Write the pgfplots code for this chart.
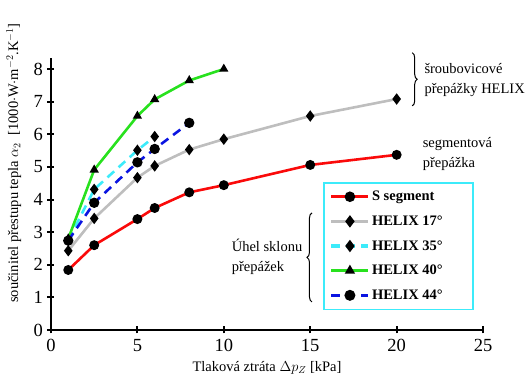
\documentclass[border=0pt]{standalone}
\usepackage{pgfplots}
\pgfplotsset{compat=1.18}
\usepackage{fontspec}
\setmainfont{Liberation Serif}
\usetikzlibrary{decorations.pathreplacing}
\definecolor{cgreen}{RGB}{40,225,30}
\definecolor{cgray}{RGB}{190,190,190}
\definecolor{ccyan}{RGB}{60,235,250}
\definecolor{cblue}{RGB}{10,20,225}
\definecolor{cred}{RGB}{250,10,10}
\begin{document}
\begin{tikzpicture}
\begin{axis}[
  scale only axis, width=432pt, height=272pt,
  xmin=0, xmax=25, ymin=0, ymax=8.34,
  axis lines=left, axis line style={line width=2.2pt, -},
  xtick={0,5,10,15,20,25}, ytick={0,1,...,8},
  tick align=center, major tick length=7pt,
  every tick/.style={line width=2pt, black},
  /pgf/number format/assume math mode=true,
  ticklabel style={font=\fontsize{18.5}{20}\selectfont},
  xticklabel style={yshift=-2pt},
  yticklabel style={xshift=-1pt},
  label style={font=\fontsize{14.5}{17}\selectfont},
  xlabel={Tlaková ztráta $\Delta p_Z$ [kPa]},
  ylabel={součinitel přestupu tepla $\alpha_2$\ \ [1000$\cdot$W$\cdot$m$^{-2}$.K$^{-1}$]},
  ylabel style={at={(axis description cs:-0.086,0.614)}, anchor=center},
  xlabel style={at={(axis description cs:0.5,-0.102)}, anchor=north},
  clip=false,
  legend cell align=left,
  legend style={at={(axis cs:15.74,4.54)}, anchor=north west, draw=ccyan, line width=1.6pt,
    font=\fontsize{14.5}{17}\selectfont\bfseries, row sep=9.5pt, inner xsep=6pt, inner ysep=6.5pt},
  legend image code/.code={\draw[mark repeat=2,mark phase=2,line width=3.2pt] plot coordinates {(0cm,0cm) (0.65cm,0cm) (1.3cm,0cm)};},
]
\addplot[cred, line width=2.6pt, mark=*, mark size=3.6pt, mark options={black, solid, fill=black}]
  coordinates {(1,1.84) (2.5,2.6) (5,3.40) (6,3.74) (8,4.22) (10,4.44) (15,5.06) (20,5.37)};
\addlegendentry{\makebox[93pt][l]{S segment}}
\addplot[cgray, line width=2.6pt, mark=diamond*, mark size=3.6pt, mark options={black, solid, fill=black}]
  coordinates {(1,2.43) (2.5,3.42) (5,4.67) (6,5.03) (8,5.53) (10,5.85) (15,6.56) (20,7.08)};
\addlegendentry{HELIX 17\textdegree}
\addplot[ccyan, line width=2.6pt, dash pattern=on 9pt off 6pt, mark=diamond*, mark size=3.6pt, mark options={black, solid, fill=black}]
  coordinates {(1,2.75) (2.5,4.31) (5,5.51) (6,5.93)};
\addlegendentry{HELIX 35\textdegree}
\addplot[cgreen, line width=2.6pt, mark=triangle*, mark size=2.8pt, mark options={black, solid, fill=black}]
  coordinates {(1,2.80) (2.5,4.91) (5,6.56) (6,7.07) (8,7.65) (10,8.0)};
\addlegendentry{HELIX 40\textdegree}
\addplot[cblue, line width=2.6pt, dash pattern=on 9pt off 6pt, mark=*, mark size=3.8pt, mark options={black, solid, fill=black}]
  coordinates {(1,2.74) (2.5,3.90) (5,5.14) (6,5.55) (8,6.35)};
\addlegendentry{HELIX 44\textdegree}

\draw[decorate, decoration={brace, amplitude=5pt}, line width=1pt] (axis cs:20.9,8.5) -- (axis cs:20.9,6.87);
\node[anchor=west, align=left, font=\fontsize{14.5}{20}\selectfont, inner sep=0pt] at (axis cs:21.6,7.67) {šroubovicové\\přepážky HELIX};
\node[anchor=west, align=left, font=\fontsize{14.5}{20}\selectfont, inner sep=0pt] at (axis cs:21.5,5.41) {segmentová\\přepážka};
\draw[decorate, decoration={brace, amplitude=5pt}, line width=1pt] (axis cs:15.1,0.86) -- (axis cs:15.1,3.59);
\node[anchor=west, align=left, font=\fontsize{14.5}{20}\selectfont, inner sep=0pt] at (axis cs:10.45,2.24) {Úhel sklonu\\přepážek};
\path (axis description cs:-0.118,-0.169) rectangle (axis description cs:1.104,1.213);
\end{axis}
\end{tikzpicture}
\end{document}
